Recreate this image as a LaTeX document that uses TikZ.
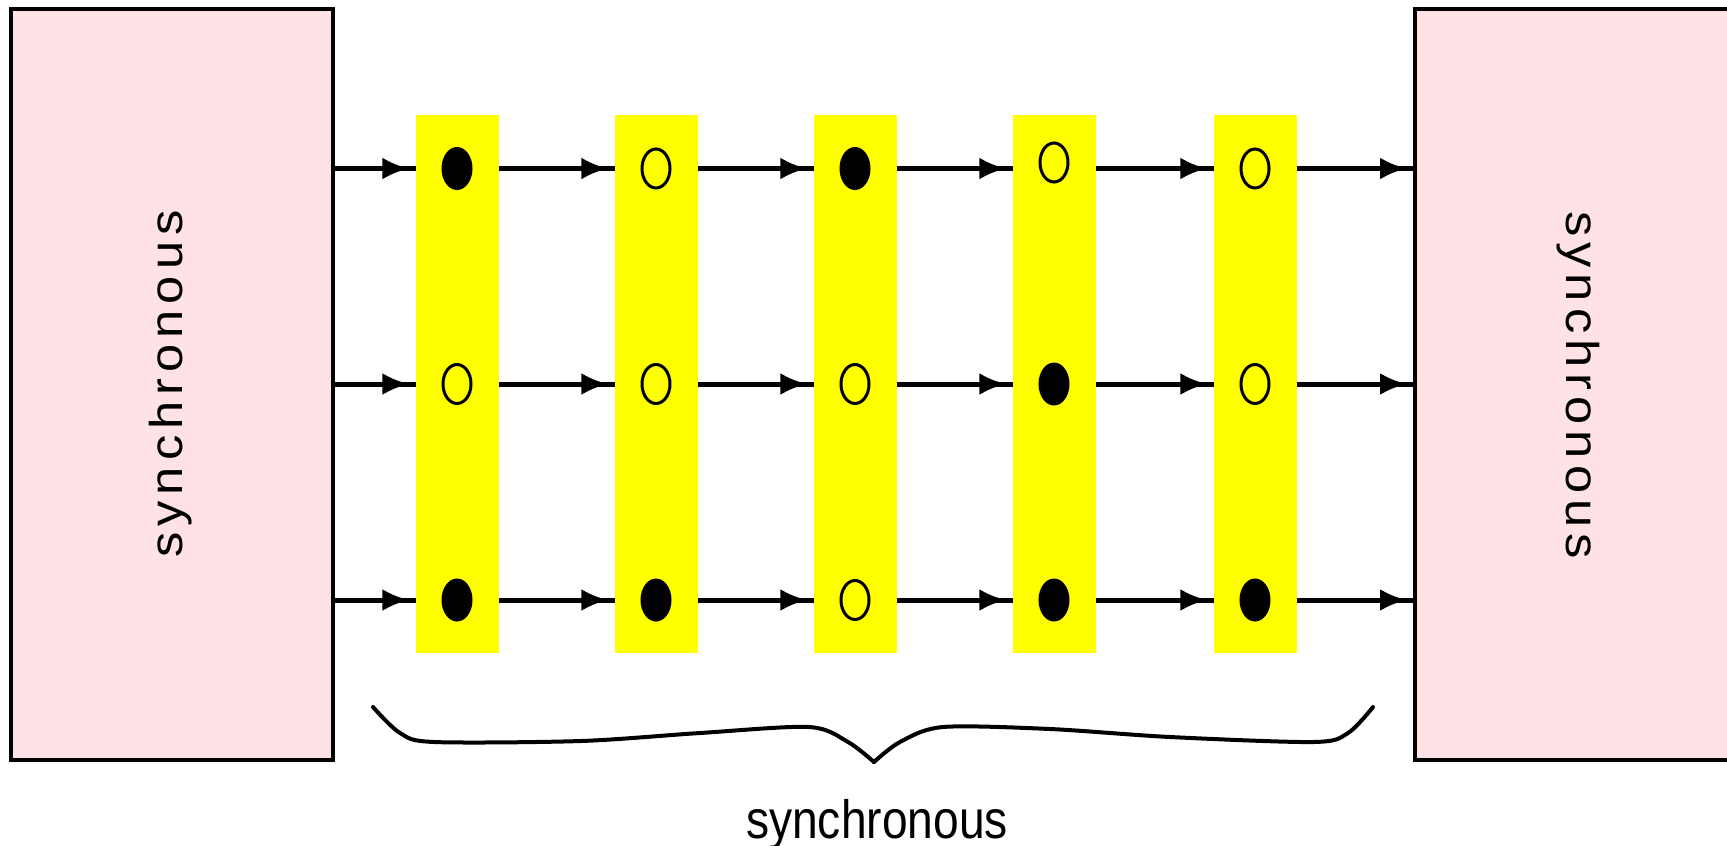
\documentclass[tikz,border=0pt]{standalone}
\usepackage{fontspec}
\setmainfont{Liberation Sans}
\usetikzlibrary{arrows.meta,shapes.geometric}
\definecolor{boxpink}{RGB}{255,226,230}
\definecolor{colyellow}{RGB}{255,255,0}
\begin{document}
\begin{tikzpicture}[x=1pt,y=-1pt,
  sidebox/.style={draw=black,line width=4pt,fill=boxpink,rectangle,inner sep=0pt,minimum width=322pt,minimum height=751pt},
  column/.style={fill=colyellow,rectangle,inner sep=0pt,minimum width=83pt,minimum height=538pt},
  fulldot/.style={ellipse,fill=black,inner sep=0pt,minimum width=31pt,minimum height=43pt},
  opendot/.style={ellipse,draw=black,line width=3pt,fill=colyellow,inner sep=0pt,minimum width=28pt,minimum height=39pt},
  rowline/.style={line width=5pt},
  flow/.style={line width=5pt,-{Latex[length=27pt,width=22pt]},shorten >=6pt},
  bigtext/.style={font=\fontsize{54}{60}\selectfont,inner sep=0pt},
  spaced/.style={font=\fontsize{46}{52}\selectfont\addfontfeature{LetterSpace=12},inner sep=0pt}
]
\useasboundingbox (0,0) rectangle (1727,846);
\clip (0,0) rectangle (1727,846);
\fill[white] (0,0) rectangle (1727,846);

\node[sidebox] (L) at (172,384.5) {};
\node[sidebox] (R) at (1576,384.5) {};
\node[spaced,rotate=90,anchor=base] (Ltext) at (182,384) {\scalebox{1.1}[1]{synchronous}};
\node[spaced,rotate=-90,anchor=base] (Rtext) at (1566,385) {\scalebox{1.1}[1]{synchronous}};

\coordinate (r1) at (0,168.5);
\coordinate (r2) at (0,384);
\coordinate (r3) at (0,600);

\foreach \r in {r1,r2,r3}
  \draw[rowline] (L.east |- \r) -- (R.west |- \r);

\node[column] (c1) at (457,384) {};
\node[column] (c2) at (656,384) {};
\node[column] (c3) at (855,384) {};
\node[column] (c4) at (1054,384) {};
\node[column] (c5) at (1255,384) {};

\foreach \r in {r1,r2,r3}{
  \draw[flow] (L.east |- \r) -- (c1.west |- \r);
  \draw[flow] (c1.east |- \r) -- (c2.west |- \r);
  \draw[flow] (c2.east |- \r) -- (c3.west |- \r);
  \draw[flow] (c3.east |- \r) -- (c4.west |- \r);
  \draw[flow] (c4.east |- \r) -- (c5.west |- \r);
  \draw[flow] (c5.east |- \r) -- (R.west |- \r);
}

% row 1
\node[fulldot] (d11) at (c1 |- r1) {};
\node[opendot] (d12) at (c2 |- r1) {};
\node[fulldot] (d13) at (c3 |- r1) {};
\node[opendot] (d14) at ([yshift=6pt]c4 |- r1) {};
\node[opendot] (d15) at (c5 |- r1) {};
% row 2
\node[opendot] (d21) at (c1 |- r2) {};
\node[opendot] (d22) at (c2 |- r2) {};
\node[opendot] (d23) at (c3 |- r2) {};
\node[fulldot] (d24) at (c4 |- r2) {};
\node[opendot] (d25) at (c5 |- r2) {};
% row 3
\node[fulldot] (d31) at (c1 |- r3) {};
\node[fulldot] (d32) at (c2 |- r3) {};
\node[opendot] (d33) at (c3 |- r3) {};
\node[fulldot] (d34) at (c4 |- r3) {};
\node[fulldot] (d35) at (c5 |- r3) {};

% brace
\draw[line width=4pt,line join=round,line cap=round] plot[smooth,tension=0.5] coordinates
  {(373,707) (400,733) (434,742) (581,741) (700,733) (809,727) (848,742) (874,762)};
\draw[line width=4pt,line join=round,line cap=round] plot[smooth,tension=0.5] coordinates
  {(874,762) (900,742) (943,727) (1050,729) (1170,737) (1314,742) (1348,733) (1373,707)};

\node[bigtext,anchor=base] (btext) at (877,838) {\scalebox{0.855}[1]{synchronous}};
\end{tikzpicture}
\end{document}
